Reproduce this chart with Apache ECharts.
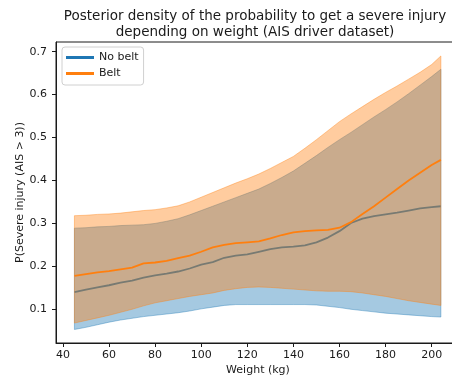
<!DOCTYPE html>
<html>
<head>
<meta charset="utf-8">
<script src="https://cdn.jsdelivr.net/npm/echarts@6/dist/echarts.min.js"></script>
<style>
  html, body { margin: 0; padding: 0; background: #fff; }
  #chart { width: 452px; height: 376px; }
</style>
</head>
<body>
<div id="chart"></div>
<script>
// Driver weight (kg)
const weight = [45, 50, 55, 60, 65, 70, 75, 80, 85, 90, 95, 100, 105, 110, 115, 120, 125,
  130, 135, 140, 145, 150, 155, 160, 165, 170, 175, 180, 185, 190, 195, 200, 204];

// Posterior mean and credible band, drivers without a belt
const noBeltMean = [0.140, 0.146, 0.151, 0.156, 0.162, 0.167, 0.174, 0.179, 0.183, 0.188, 0.195,
  0.204, 0.210, 0.220, 0.225, 0.228, 0.234, 0.240, 0.244, 0.246, 0.249, 0.256, 0.267, 0.282,
  0.301, 0.311, 0.317, 0.321, 0.325, 0.330, 0.335, 0.338, 0.340];
const noBeltLow = [0.053, 0.058, 0.064, 0.070, 0.075, 0.079, 0.083, 0.086, 0.089, 0.092, 0.096,
  0.101, 0.105, 0.109, 0.111, 0.111, 0.111, 0.111, 0.111, 0.111, 0.111, 0.110, 0.107, 0.104,
  0.100, 0.097, 0.094, 0.091, 0.089, 0.087, 0.085, 0.083, 0.082];
const noBeltHigh = [0.289, 0.290, 0.292, 0.293, 0.295, 0.296, 0.297, 0.300, 0.305, 0.311, 0.320,
  0.330, 0.340, 0.350, 0.360, 0.370, 0.380, 0.393, 0.407, 0.422, 0.440, 0.458, 0.477, 0.495,
  0.512, 0.530, 0.548, 0.565, 0.583, 0.602, 0.622, 0.642, 0.659];

// Posterior mean and credible band, belted drivers
const beltMean = [0.178, 0.182, 0.186, 0.189, 0.193, 0.197, 0.207, 0.209, 0.213, 0.219, 0.225,
  0.234, 0.244, 0.250, 0.254, 0.256, 0.258, 0.265, 0.273, 0.279, 0.282, 0.284, 0.285, 0.290,
  0.303, 0.322, 0.340, 0.360, 0.380, 0.400, 0.418, 0.436, 0.448];
const beltLow = [0.068, 0.074, 0.080, 0.086, 0.093, 0.100, 0.108, 0.115, 0.120, 0.125, 0.130,
  0.134, 0.138, 0.144, 0.148, 0.151, 0.152, 0.151, 0.149, 0.147, 0.145, 0.143, 0.142, 0.142,
  0.141, 0.138, 0.134, 0.130, 0.125, 0.120, 0.116, 0.112, 0.109];
const beltHigh = [0.318, 0.319, 0.321, 0.322, 0.324, 0.327, 0.330, 0.332, 0.336, 0.341, 0.350,
  0.361, 0.372, 0.383, 0.394, 0.404, 0.415, 0.428, 0.442, 0.456, 0.475, 0.495, 0.516, 0.537,
  0.555, 0.572, 0.589, 0.605, 0.620, 0.636, 0.652, 0.670, 0.690];

// Axis tick values
const xTicks = [40, 60, 80, 100, 120, 140, 160, 180, 200];
const yTicks = [0.1, 0.2, 0.3, 0.4, 0.5, 0.6, 0.7];

const BLUE = '#1f77b4';
const ORANGE = '#ff7f0e';
const FONT = 'DejaVu Sans';
const INK = '#1a1a1a';

const pairs = ys => weight.map((w, i) => [w, ys[i]]);

// Shaded credible band: polygon along the upper bound, back along the lower bound
function band(color, lo, hi, z) {
  return {
    type: 'custom', silent: true, clip: true, z: z,
    data: [[weight[0], lo[0]]],
    encode: { x: 0, y: 1 },
    renderItem: function (params, api) {
      const upper = weight.map((w, i) => api.coord([w, hi[i]]));
      const lower = weight.map((w, i) => api.coord([w, lo[i]])).reverse();
      return {
        type: 'polygon',
        shape: { points: upper.concat(lower) },
        style: { fill: color, stroke: color, lineWidth: 1, opacity: 0.4 }
      };
    }
  };
}

function meanLine(name, color, ys, z) {
  return { name: name, type: 'line', data: pairs(ys), symbol: 'none', silent: true, z: z,
    itemStyle: { color: color }, lineStyle: { color: color, width: 1.8 },
    emphasis: { disabled: true } };
}

const chart = echarts.init(document.getElementById('chart'), null, { renderer: 'canvas' });
chart.setOption({
  animation: false,
  backgroundColor: '#fff',
  textStyle: { fontFamily: FONT },
  title: {
    text: 'Posterior density of the probability to get a severe injury\ndepending on weight (AIS driver dataset)',
    left: 255, top: 9, padding: 0, textAlign: 'center',
    textStyle: { fontFamily: FONT, fontSize: 13.5, fontWeight: 'normal', color: INK, lineHeight: 15.5 }
  },
  legend: {
    data: ['No belt', 'Belt'],
    orient: 'vertical', left: 62, top: 47, z: 10,
    icon: 'rect', itemWidth: 28, itemHeight: 3, itemGap: 5,
    padding: [5, 5, 6, 4],
    backgroundColor: 'rgba(255,255,255,0.8)',
    borderColor: '#d0d0d0', borderWidth: 1, borderRadius: 3,
    textStyle: { fontFamily: FONT, fontSize: 11, color: INK },
    selectedMode: false
  },
  grid: {
    left: 56, right: -8, top: 42, bottom: 33,
    outerBoundsMode: 'none', containLabel: false,
    show: true, borderColor: INK, borderWidth: 1, backgroundColor: 'transparent'
  },
  xAxis: {
    type: 'value', min: 37, max: 212.3,
    name: 'Weight (kg)', nameLocation: 'middle', nameGap: 22, nameMoveOverlap: false,
    nameTextStyle: { fontFamily: FONT, fontSize: 11, color: INK },
    axisLine: { show: true, lineStyle: { color: INK, width: 1 } },
    axisTick: { show: true, length: 4, customValues: xTicks, lineStyle: { color: INK } },
    axisLabel: { customValues: xTicks, margin: 7, fontFamily: FONT, fontSize: 11, color: INK },
    splitLine: { show: false }
  },
  yAxis: {
    type: 'value', min: 0.0215, max: 0.7225,
    name: 'P(Severe injury (AIS > 3))', nameLocation: 'middle', nameGap: 30, nameMoveOverlap: false,
    nameTextStyle: { fontFamily: FONT, fontSize: 11, color: INK },
    axisLine: { show: true, lineStyle: { color: INK, width: 1 } },
    axisTick: { show: true, length: 4, customValues: yTicks, lineStyle: { color: INK } },
    axisLabel: { customValues: yTicks, margin: 9, fontFamily: FONT, fontSize: 11, color: INK,
      formatter: v => v.toFixed(1) },
    splitLine: { show: false }
  },
  series: [
    band(BLUE, noBeltLow, noBeltHigh, 2),
    meanLine('No belt', BLUE, noBeltMean, 3),
    band(ORANGE, beltLow, beltHigh, 4),
    meanLine('Belt', ORANGE, beltMean, 5)
  ]
});
</script>
</body>
</html>
